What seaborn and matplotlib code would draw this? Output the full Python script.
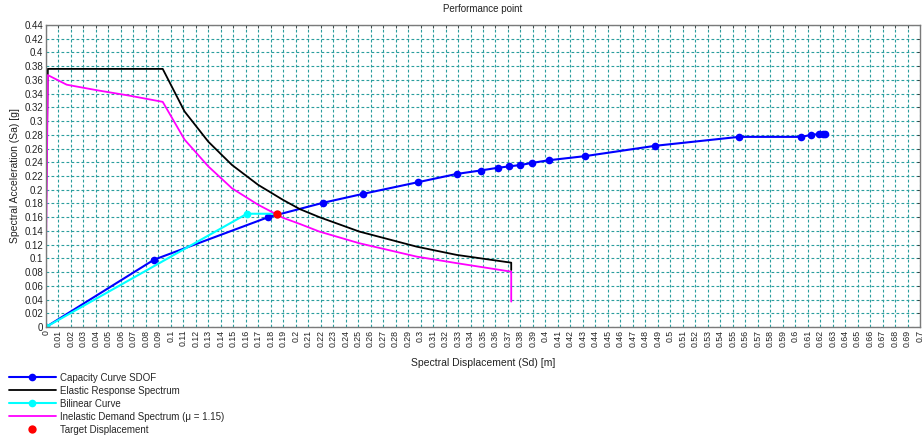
import numpy as np
import pandas as pd
import matplotlib
matplotlib.use("Agg")
import matplotlib.pyplot as plt
import seaborn as sns

# Capacity curve of the equivalent SDOF system
cap_sd = [0.0, 0.0865, 0.178, 0.222, 0.254, 0.298, 0.329, 0.348, 0.362, 0.371,
          0.380, 0.389, 0.403, 0.432, 0.488, 0.555, 0.605, 0.613, 0.619, 0.622, 0.624]
cap_sa = [0.0, 0.098, 0.160, 0.181, 0.194, 0.211, 0.223, 0.228, 0.232, 0.234,
          0.236, 0.239, 0.243, 0.249, 0.264, 0.277, 0.277, 0.280, 0.281, 0.281, 0.281]

# Elastic response spectrum (ADRS format)
el_sd = [0.0, 0.0015, 0.0935, 0.111, 0.130, 0.149, 0.170, 0.190, 0.2035, 0.219,
         0.251, 0.297, 0.329, 0.3726, 0.3726]
el_sa = [0.168, 0.376, 0.376, 0.314, 0.270, 0.236, 0.207, 0.185, 0.1716, 0.160,
         0.139, 0.117, 0.105, 0.0937, 0.083]

# Bilinear idealisation
bl_sd = [0.0, 0.161, 0.185]
bl_sa = [0.0, 0.165, 0.165]

# Inelastic demand spectrum, mu = 1.15
in_sd = [0.0, 0.0015, 0.0166, 0.0406, 0.067, 0.0935, 0.111, 0.130, 0.149, 0.170,
         0.190, 0.2035, 0.219, 0.251, 0.297, 0.329, 0.3726, 0.3726]
in_sa = [0.10, 0.367, 0.353, 0.345, 0.337, 0.328, 0.273, 0.234, 0.202, 0.178,
         0.159, 0.150, 0.139, 0.122, 0.1025, 0.093, 0.0806, 0.037]

# Performance point
target_sd = [0.185]
target_sa = [0.165]

x_ticks = [round(0.01 * i, 2) for i in range(71)]
y_ticks = [round(0.02 * i, 2) for i in range(23)]

sns.set_theme(style="white")
plt.rcParams["font.family"] = ["Liberation Sans", "DejaVu Sans"]

fig = plt.figure(figsize=(9.23, 4.36), dpi=100)
ax = fig.add_axes([0.0498, 0.25, 0.9470, 0.6927])

sns.lineplot(x=cap_sd, y=cap_sa, ax=ax, sort=False, estimator=None, color="#0000ff",
             lw=1.5, marker="o", markersize=5.5, markeredgewidth=0,
             label="Capacity Curve SDOF")
sns.lineplot(x=el_sd, y=el_sa, ax=ax, sort=False, estimator=None, color="black",
             lw=1.3, label="Elastic Response Spectrum")
sns.lineplot(x=bl_sd, y=bl_sa, ax=ax, sort=False, estimator=None, color="#00ffff",
             lw=1.5, marker="o", markersize=5.5, markeredgewidth=0,
             label="Bilinear Curve")
sns.lineplot(x=in_sd, y=in_sa, ax=ax, sort=False, estimator=None, color="#ff00ff",
             lw=1.3, label="Inelastic Demand Spectrum (\u03bc = 1.15)")
sns.scatterplot(x=target_sd, y=target_sa, ax=ax, color="#ff0000", s=36,
                linewidth=0, label="Target Displacement", zorder=5)

ax.set_xlim(0, 0.7)
ax.set_ylim(0, 0.44)
ax.set_xticks(x_ticks)
ax.set_xticklabels([f"{v:g}" for v in x_ticks], rotation=90, fontsize=6.3)
ax.set_yticks(y_ticks)
ax.set_yticklabels([f"{v:g}" for v in y_ticks], fontsize=7)
ax.tick_params(direction="in", length=2.5, width=0.6, top=True, right=True,
               pad=2, colors="#333333")
for lbl in ax.get_xticklabels() + ax.get_yticklabels():
    lbl.set_color("#222222")

ax.grid(True, color="#2a9e9e", linestyle=(0, (2.5, 2)), linewidth=0.8)
ax.set_axisbelow(True)
for sp in ax.spines.values():
    sp.set_color("#7a7a7a")
    sp.set_linewidth(1.0)

ax.set_title("Performance point", fontsize=7, color="#222222", pad=9)
ax.set_xlabel("Spectral Displacement (Sd) [m]", fontsize=7.5, color="#222222", labelpad=8)
ax.set_ylabel("Spectral Acceleration (Sa) [g]", fontsize=7.5, color="#222222", labelpad=3)

handles, labels = ax.get_legend_handles_labels()
ax.get_legend().remove()
fig.legend(handles, labels, loc="upper left", bbox_to_anchor=(0.0094, 0.145),
           frameon=False, fontsize=7, handlelength=4.9, handletextpad=0.35,
           labelspacing=0.31, borderpad=0, borderaxespad=0,
           scatterpoints=1, scatteryoffsets=[0.5])

fig.savefig("out.png", dpi=100)
